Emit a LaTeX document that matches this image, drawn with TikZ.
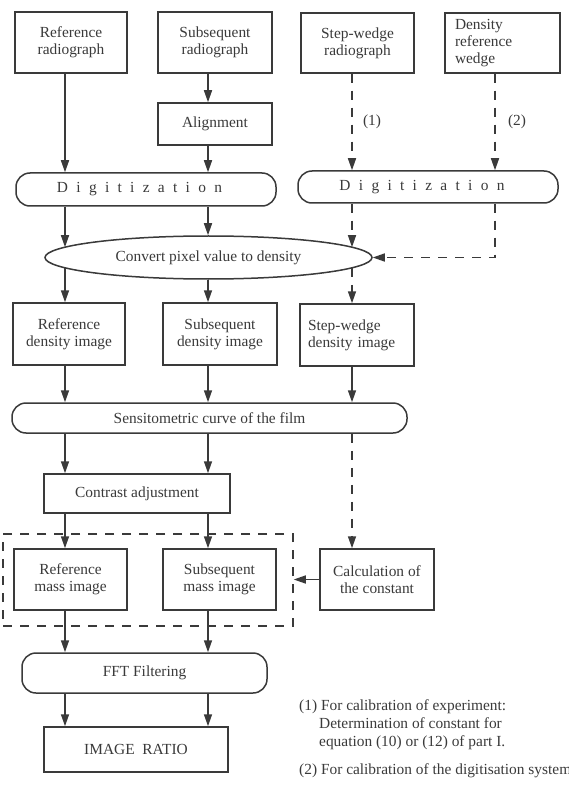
\documentclass[tikz,border=0pt]{standalone}
\usepackage{fontspec}
\setmainfont{Liberation Serif}
\usetikzlibrary{arrows.meta,shapes.geometric,calc}
\definecolor{ink}{HTML}{3A3A3A}
\begin{document}
\begin{tikzpicture}[x=1pt,y=-1pt,
  every node/.style={font=\fontsize{15.4}{17}\selectfont, text=ink},
  box/.style={draw=ink, line width=1.5pt, inner sep=0pt, align=center},
  rbox/.style={box, rounded corners=14pt},
  arr/.style={draw=ink, line width=1.5pt, -{Triangle[length=12pt,width=8pt]}},
  darr/.style={arr, dash pattern=on 9pt off 8pt},
  dframe/.style={draw=ink, line width=1.5pt, dash pattern=on 9pt off 8pt, inner sep=0pt},
  spaced/.style={font=\fontsize{15.4}{17}\selectfont\addfontfeature{LetterSpace=54}},
  note/.style={anchor=base west, inner sep=0pt}
  ]
\useasboundingbox[fill=white] (0,0) rectangle (569,791);

\coordinate (cA) at (65,0);
\coordinate (cB) at (208,0);
\coordinate (cC) at (352,0);
\coordinate (cD) at (495,0);

% top row
\node[box, minimum width=112pt, minimum height=61pt] (refrad) at (71,42.5) {Reference\\radiograph};
\node[box, minimum width=114pt, minimum height=61pt] (subrad) at (215,42.5) {Subsequent\\radiograph};
\node[box, minimum width=113pt, minimum height=60pt] (stepw) at (357.5,43) {Step-wedge\\radiograph};
\node[box, minimum width=115pt, minimum height=60pt, text width=95pt, align=left] (densw) at (502.5,43) {Density\\reference\\wedge};

\node[box, minimum width=114pt, minimum height=42pt] (align) at (215,124) {Alignment};

\node[rbox, spaced, minimum width=260pt, minimum height=33pt] (digL) at (146,189.5) {Digitization\hspace{13pt}};
\node[rbox, spaced, minimum width=260pt, minimum height=32pt] (digR) at (428,187) {Digitization\hspace{12pt}};

\node[draw=ink, line width=1.5pt, ellipse, inner sep=0pt, minimum width=327pt, minimum height=43pt] (conv) at (208.5,257.5) {Convert pixel value to density};
\coordinate (eA1) at ($(conv.center)+(-143.5,-10.3)$);
\coordinate (eA2) at ($(conv.center)+(-143.5,10.3)$);
\coordinate (eC1) at ($(conv.center)+(143.5,-10.3)$);
\coordinate (eC2) at ($(conv.center)+(143.5,10.3)$);

\node[box, minimum width=112pt, minimum height=62pt] (refden) at (69,334) {Reference\\density image};
\node[box, minimum width=114pt, minimum height=62pt] (subden) at (220,334) {Subsequent\\density image};
\node[box, minimum width=114pt, minimum height=62pt, text width=98pt, align=left] (stepden) at (357,335) {Step-wedge\\density image};

\node[rbox, minimum width=395pt, minimum height=30pt] (sens) at (209.5,418) {Sensitometric curve of the film};

\node[box, minimum width=186pt, minimum height=39pt] (contrast) at (137,493.5) {Contrast adjustment};

\node[dframe, minimum width=290pt, minimum height=92pt] (dbox) at (148,580) {};
\node[box, minimum width=113pt, minimum height=61pt] (refmass) at (70.5,579.5) {Reference\\mass image};
\node[box, minimum width=113pt, minimum height=61pt] (submass) at (219.5,579.5) {Subsequent\\mass image};
\node[box, minimum width=114pt, minimum height=61pt] (calc) at (377,579.5) {Calculation of\\the constant};

\node[rbox, minimum width=245pt, minimum height=40pt] (fft) at (144.5,673) {FFT Filtering};
\node[box, minimum width=184pt, minimum height=45pt] (ratio) at (136,749.5) {IMAGE\ \ RATIO};

% labels
\node (l1) at (372,122) {(1)};
\node (l2) at (517,122) {(2)};

% connectors
\draw[arr] (refrad.south -| cA) -- (digL.north -| cA);
\draw[arr] (subrad.south -| cB) -- (align.north -| cB);
\draw[arr] (align.south -| cB) -- (digL.north -| cB);
\draw[darr] (stepw.south -| cC) -- (digR.north -| cC);
\draw[darr] (densw.south -| cD) -- (digR.north -| cD);

\draw[arr] (digL.south -| cA) -- (eA1);
\draw[arr] (digL.south -| cB) -- (conv.north -| cB);
\draw[darr] (digR.south -| cC) -- (eC1);
\draw[darr] (digR.south -| cD) -- (cD |- conv.east) -- (conv.east);

\draw[arr] (eA2) -- (refden.north -| cA);
\draw[arr] (conv.south -| cB) -- (subden.north -| cB);
\draw[darr] (eC2) -- (stepden.north -| cC);

\draw[arr] (refden.south -| cA) -- (sens.north -| cA);
\draw[arr] (subden.south -| cB) -- (sens.north -| cB);
\draw[arr] (stepden.south -| cC) -- (sens.north -| cC);

\draw[arr] (sens.south -| cA) -- (contrast.north -| cA);
\draw[arr] (sens.south -| cB) -- (contrast.north -| cB);
\draw[darr] (sens.south -| cC) -- (calc.north -| cC);

\draw[arr] (contrast.south -| cA) -- (refmass.north -| cA);
\draw[arr] (contrast.south -| cB) -- (submass.north -| cB);
\draw[arr] (calc.west) -- (dbox.east |- calc.west);

\draw[arr] (refmass.south -| cA) -- (fft.north -| cA);
\draw[arr] (submass.south -| cB) -- (fft.north -| cB);
\draw[arr] (fft.south -| cA) -- (ratio.north -| cA);
\draw[arr] (fft.south -| cB) -- (ratio.north -| cB);

% notes
\node[note] (n1) at (299,710) {(1) For calibration of experiment:};
\node[note] (n1b) at (319,728) {Determination of constant for};
\node[note] (n1c) at (319,746) {equation (10) or (12) of part I.};
\node[note] (n2) at (299,774) {(2) For calibration of the digitisation system};
\end{tikzpicture}
\end{document}
